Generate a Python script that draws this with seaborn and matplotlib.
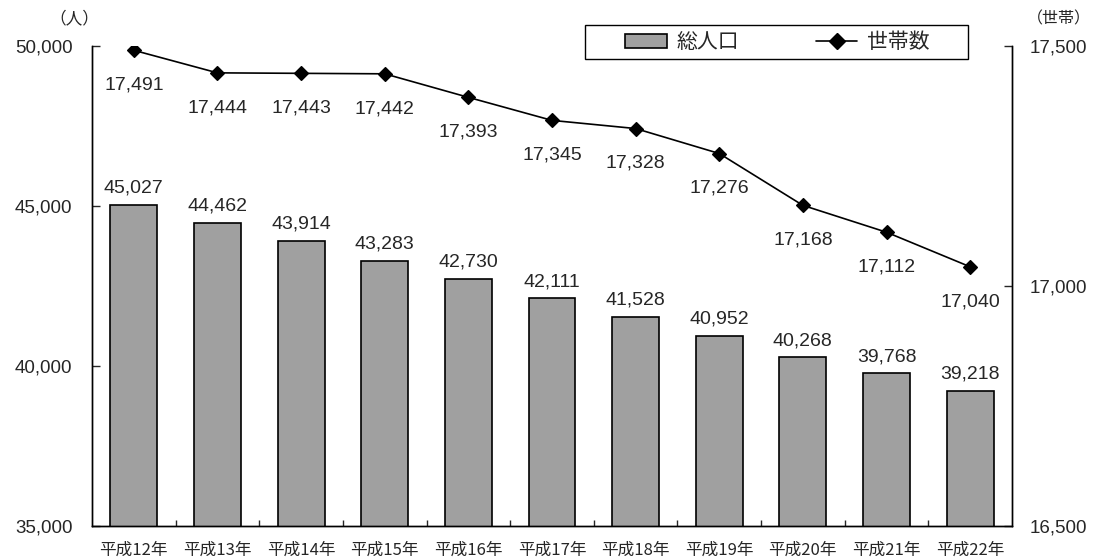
import numpy as np
import pandas as pd
import matplotlib
matplotlib.use("Agg")
import matplotlib.pyplot as plt
import seaborn as sns
from matplotlib.patches import Patch, Rectangle
from matplotlib.lines import Line2D

# data
years = ["平成12年", "平成13年", "平成14年", "平成15年", "平成16年", "平成17年",
         "平成18年", "平成19年", "平成20年", "平成21年", "平成22年"]
population = [45027, 44462, 43914, 43283, 42730, 42111, 41528, 40952, 40268, 39768, 39218]
households = [17491, 17444, 17443, 17442, 17393, 17345, 17328, 17276, 17168, 17112, 17040]

sns.set_style("white")
plt.rcParams['font.family'] = ['Noto Sans CJK JP', 'DejaVu Sans']
num_font = ['Liberation Sans', 'DejaVu Sans']

df = pd.DataFrame({"year": years, "pop": population, "hh": households})

fig = plt.figure(figsize=(10.94, 5.6), dpi=100)
ax = fig.add_axes([0.0841, 0.0607, 0.8409, 0.8572])

sns.barplot(data=df, x="year", y="pop", ax=ax, color="#a0a0a0", saturation=1,
            edgecolor="black", linewidth=1.2, width=0.56)
ax.set_ylim(35000, 50000)
left_ticks = [35000, 40000, 45000, 50000]
ax.set_yticks(left_ticks)
ax.set_yticklabels([f"{v:,}" for v in left_ticks], fontsize=13.5, family=num_font)
ax.set_xlabel("")
ax.set_ylabel("")

for i, v in enumerate(population):
    ax.annotate(f"{v:,}", (i, v), xytext=(0, 6), textcoords="offset points",
                ha="center", va="bottom", fontsize=14, family=num_font)

ax2 = ax.twinx()
sns.pointplot(data=df, x="year", y="hh", ax=ax2, color="black", markers="D",
              linestyles="-", linewidth=1.2, markersize=7)
ax2.set_ylim(16500, 17500)
right_ticks = [16500, 17000, 17500]
ax2.set_yticks(right_ticks)
ax2.set_yticklabels([f"{v:,}" for v in right_ticks], fontsize=13.5, family=num_font)
ax2.set_ylabel("")
ax2.set_xlabel("")

for i, v in enumerate(households):
    ax2.annotate(f"{v:,}", (i, v), xytext=(0, -25), textcoords="offset points",
                 ha="center", va="center", fontsize=14, family=num_font)

ax.set_xlim(-0.5, len(years) - 0.5)
ax.set_xticks(range(len(years)))
ax.set_xticklabels(years, fontsize=12)
ax.set_xticks(np.arange(0.5, len(years) - 1, 1), minor=True)
ax.tick_params(axis="x", which="major", length=0, pad=11)
ax.tick_params(axis="x", which="minor", direction="in", length=4, width=1, bottom=True)
ax.tick_params(axis="y", direction="in", length=6, width=1, left=True, pad=14)
ax2.tick_params(axis="y", direction="in", length=6, width=1, right=True, pad=13)

for a in (ax, ax2):
    for s in a.spines.values():
        s.set_color("black")
        s.set_linewidth(1)
    a.spines["top"].set_visible(False)

fig.text(0.068, 0.967, "（人）", fontsize=12, ha="center", va="center")
fig.text(0.968, 0.967, "（世帯）", fontsize=11.5, ha="center", va="center")

# legend frame drawn separately so the padding matches the reference
fig.patches.append(Rectangle((0.5347, 0.8946), 0.3501, 0.0607, transform=fig.transFigure,
                             facecolor="white", edgecolor="black", linewidth=1, zorder=5))
handles = [Patch(facecolor="#a0a0a0", edgecolor="black", linewidth=1.2),
           Line2D([0], [0], color="black", marker="D", markersize=8, linewidth=1.2)]
leg = fig.legend(handles, ["総人口", "世帯数"], ncol=2, loc="center left",
                 bbox_to_anchor=(0.5713, 0.925), fontsize=15, frameon=False,
                 columnspacing=3.7, handlelength=2.0, handleheight=0.65,
                 borderpad=0, borderaxespad=0, handletextpad=0.45)
leg.set_zorder(6)

fig.savefig("out.png", dpi=100)
